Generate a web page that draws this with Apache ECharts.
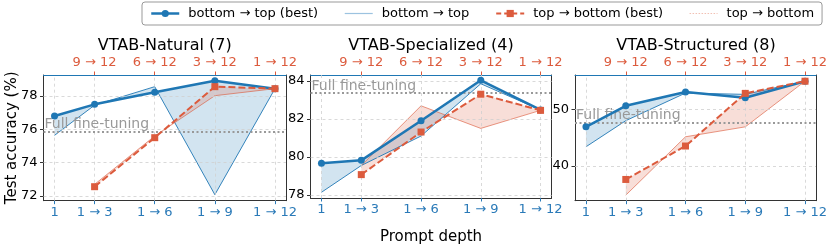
<!DOCTYPE html>
<html><head><meta charset="utf-8">
<script src="https://cdn.jsdelivr.net/npm/echarts@6/dist/echarts.min.js"></script>
<style>html,body{margin:0;padding:0;background:#fff}#c{width:830px;height:250px}</style>
</head><body><div id="c"></div>
<script>
// ---------- data ----------
const depths = [1, 3, 6, 9, 12];
const bottomTickLabels = ['1', '1 → 3', '1 → 6', '1 → 9', '1 → 12'];
const topTickValues = [3, 6, 9, 12];
const topTickLabels = ['9 → 12', '6 → 12', '3 → 12', '1 → 12'];
const panelTitles = ['VTAB-Natural (7)', 'VTAB-Specialized (4)', 'VTAB-Structured (8)'];
const seriesNames = ['bottom → top (best)', 'bottom → top', 'top → bottom (best)', 'top → bottom'];

const natB2tBest = [76.8, 77.5, 78.22, 78.92, 78.44];
const natB2t     = [75.64, 77.45, 78.56, 72.08, 78.44];
const natT2bBest = [null, 72.56, 75.5, 78.56, 78.44];
const natT2b     = [null, 72.7, 75.6, 78.02, 78.44];
const natFull = 75.88;
const natYTicks = [72, 74, 76, 78];
const natYRange = [71.72, 79.26];

const speB2tBest = [79.67, 79.82, 81.9, 84.03, 82.47];
const speB2t     = [78.14, 79.55, 81.1, 83.85, 82.47];
const speT2bBest = [null, 79.07, 81.31, 83.3, 82.45];
const speT2b     = [null, 79.55, 82.69, 81.5, 82.45];
const speFull = 83.36;
const speYTicks = [78, 80, 82, 84];
const speYRange = [77.84, 84.31];

const strB2tBest = [46.9, 50.64, 53.1, 52.06, 55.0];
const strB2t     = [43.36, 48.0, 52.9, 52.66, 55.0];
const strT2bBest = [null, 37.57, 43.5, 52.84, 55.0];
const strT2b     = [null, 34.78, 45.14, 46.9, 55.0];
const strFull = 47.7;
const strYTicks = [40, 50];
const strYRange = [33.8, 56.1];

const xRange = [0.45, 12.55];

// ---------- style ----------
const BLUE = '#1f77b4', BLUE_TXT = '#2a7ab8', RED = '#dc5b3d', GRAY = '#999999';
const FONT = 'DejaVu Sans';
const grids = [
  {left: 43.5, top: 75, width: 242.5, height: 125.7},
  {left: 310.5, top: 75, width: 241, height: 125.7},
  {left: 575, top: 75, width: 242, height: 125.7}
];
const panels = [
  {b: natB2tBest, t: natB2t, rb: natT2bBest, rt: natT2b, full: natFull, yt: natYTicks, yr: natYRange},
  {b: speB2tBest, t: speB2t, rb: speT2bBest, rt: speT2b, full: speFull, yt: speYTicks, yr: speYRange},
  {b: strB2tBest, t: strB2t, rb: strT2bBest, rt: strT2b, full: strFull, yt: strYTicks, yr: strYRange}
];

function pairs(vals) {
  const out = [];
  vals.forEach((v, i) => { if (v !== null) out.push([depths[i], v]); });
  return out;
}
function segs(a, b) {
  const out = [];
  for (let i = 0; i < depths.length - 1; i++) {
    if (a[i] === null || b[i] === null) continue;
    out.push([depths[i], a[i], b[i], depths[i + 1], a[i + 1], b[i + 1]]);
  }
  return out;
}
function fillRender(color) {
  return function (params, api) {
    const p0 = api.coord([api.value(0), api.value(1)]);
    const p1 = api.coord([api.value(3), api.value(4)]);
    const p2 = api.coord([api.value(3), api.value(5)]);
    const p3 = api.coord([api.value(0), api.value(2)]);
    return {type: 'polygon', shape: {points: [p0, p1, p2, p3]}, style: {fill: color, stroke: null}};
  };
}

const xAxes = [], yAxes = [], series = [], graphics = [];
panels.forEach((p, i) => {
  xAxes.push({
    gridIndex: i, type: 'value', position: 'bottom', min: xRange[0], max: xRange[1],
    axisLine: {lineStyle: {color: '#333', width: 1}},
    axisTick: {show: true, customValues: depths, length: 3.5, lineStyle: {color: BLUE_TXT}},
    axisLabel: {customValues: depths, color: BLUE_TXT, fontFamily: FONT, fontSize: 13, margin: 5,
      formatter: v => bottomTickLabels[depths.indexOf(v)]},
    splitLine: {show: false},
    name: i === 1 ? 'Prompt depth' : '', nameLocation: 'middle', nameGap: 32, nameMoveOverlap: false,
    nameTextStyle: {fontFamily: FONT, fontSize: 15, color: '#000'}
  });
  xAxes.push({
    gridIndex: i, type: 'value', position: 'top', min: xRange[0], max: xRange[1],
    axisLine: {lineStyle: {color: BLUE, width: 1}},
    axisTick: {show: true, customValues: topTickValues, length: 3.5, lineStyle: {color: RED}},
    axisLabel: {customValues: topTickValues, color: RED, fontFamily: FONT, fontSize: 13, margin: 6,
      formatter: v => topTickLabels[topTickValues.indexOf(v)]},
    splitLine: {show: false}
  });
  yAxes.push({
    gridIndex: i, type: 'value', position: 'left', min: p.yr[0], max: p.yr[1],
    axisLine: {show: true, lineStyle: {color: '#333', width: 1}},
    axisTick: {show: true, customValues: p.yt, length: 3.5, lineStyle: {color: '#333'}},
    axisLabel: {customValues: p.yt, color: '#000', fontFamily: FONT, fontSize: 13, margin: 6},
    splitLine: {show: false},
    name: i === 0 ? 'Test accuracy (%)' : '', nameLocation: 'middle', nameGap: 24, nameMoveOverlap: false,
    nameTextStyle: {fontFamily: FONT, fontSize: 15, color: '#000'}
  });
  yAxes.push({
    gridIndex: i, type: 'value', position: 'right', min: p.yr[0], max: p.yr[1],
    axisLine: {show: true, lineStyle: {color: '#333', width: 1}},
    axisTick: {show: false}, axisLabel: {show: false}, splitLine: {show: false}
  });
  const xi = 2 * i, yi = 2 * i;
  // grid lines
  series.push({
    type: 'line', name: 'grid' + i, xAxisIndex: xi, yAxisIndex: yi, data: [], z: 1, silent: true,
    markLine: {
      silent: true, symbol: ['none', 'none'], animation: false,
      label: {show: false},
      lineStyle: {color: '#d0d0d0', type: [3, 3], width: 0.8},
      data: depths.map(d => ({xAxis: d})).concat(p.yt.map(t => ({yAxis: t})))
    }
  });
  series.push({type: 'custom', name: 'fillB' + i, xAxisIndex: xi, yAxisIndex: yi, z: 2, silent: true,
    renderItem: fillRender('rgba(31,119,180,0.2)'), data: segs(p.b, p.t)});
  series.push({type: 'custom', name: 'fillR' + i, xAxisIndex: xi, yAxisIndex: yi, z: 2, silent: true,
    renderItem: fillRender('rgba(220,91,61,0.2)'), data: segs(p.rb, p.rt)});
  series.push({
    type: 'line', name: 'full' + i, xAxisIndex: xi, yAxisIndex: yi, data: [], z: 3, silent: true,
    markLine: {
      silent: true, symbol: ['none', 'none'], animation: false,
      lineStyle: {color: GRAY, type: [2, 2.5], width: 2},
      label: {show: true, position: 'insideStartTop', formatter: 'Full fine-tuning', color: GRAY,
        fontFamily: FONT, fontSize: 14, distance: [1, 0]},
      data: [{yAxis: p.full}]
    }
  });
  series.push({type: 'line', name: seriesNames[1], xAxisIndex: xi, yAxisIndex: yi, z: 4,
    data: pairs(p.t), symbol: 'none', lineStyle: {color: BLUE, width: 0.9}, itemStyle: {color: BLUE}});
  series.push({type: 'line', name: seriesNames[3], xAxisIndex: xi, yAxisIndex: yi, z: 4,
    data: pairs(p.rt), symbol: 'none', lineStyle: {color: RED, width: 0.9, opacity: 0.7}, itemStyle: {color: RED}});
  series.push({type: 'line', name: seriesNames[0], xAxisIndex: xi, yAxisIndex: yi, z: 5,
    data: pairs(p.b), symbol: 'circle', symbolSize: 7, lineStyle: {color: BLUE, width: 2.5}, itemStyle: {color: BLUE}});
  series.push({type: 'line', name: seriesNames[2], xAxisIndex: xi, yAxisIndex: yi, z: 6,
    data: pairs(p.rb), symbol: 'rect', symbolSize: 7, lineStyle: {color: RED, width: 2, type: [7, 3]}, itemStyle: {color: RED}});
  graphics.push({type: 'text', x: grids[i].left + grids[i].width / 2, y: 46,
    style: {text: panelTitles[i], fontFamily: FONT, fontSize: 16, fill: '#000', textAlign: 'center', textVerticalAlign: 'middle'}});
});

const chart = echarts.init(document.getElementById('c'), null, {renderer: 'canvas'});
chart.setOption({
  animation: false,
  backgroundColor: '#fff',
  grid: grids,
  xAxis: xAxes,
  yAxis: yAxes,
  legend: {
    data: [
      {name: seriesNames[0], lineStyle: {width: 2.5}},
      {name: seriesNames[1], itemStyle: {opacity: 0}, lineStyle: {width: 1.2, color: '#9cc3e0'}},
      {name: seriesNames[2], lineStyle: {width: 2, type: [5, 3]}},
      {name: seriesNames[3], itemStyle: {opacity: 0}, lineStyle: {type: [1.5, 1.5], width: 1, color: '#eda593'}}
    ],
    left: 142, top: 2, padding: [5, 8], itemWidth: 28, itemHeight: 9, itemGap: 26,
    borderColor: '#999', borderWidth: 1, borderRadius: 3,
    textStyle: {fontFamily: FONT, fontSize: 13, color: '#000', padding: [0, 0, 0, 4]}
  },
  graphic: graphics,
  series: series
});
</script></body></html>
